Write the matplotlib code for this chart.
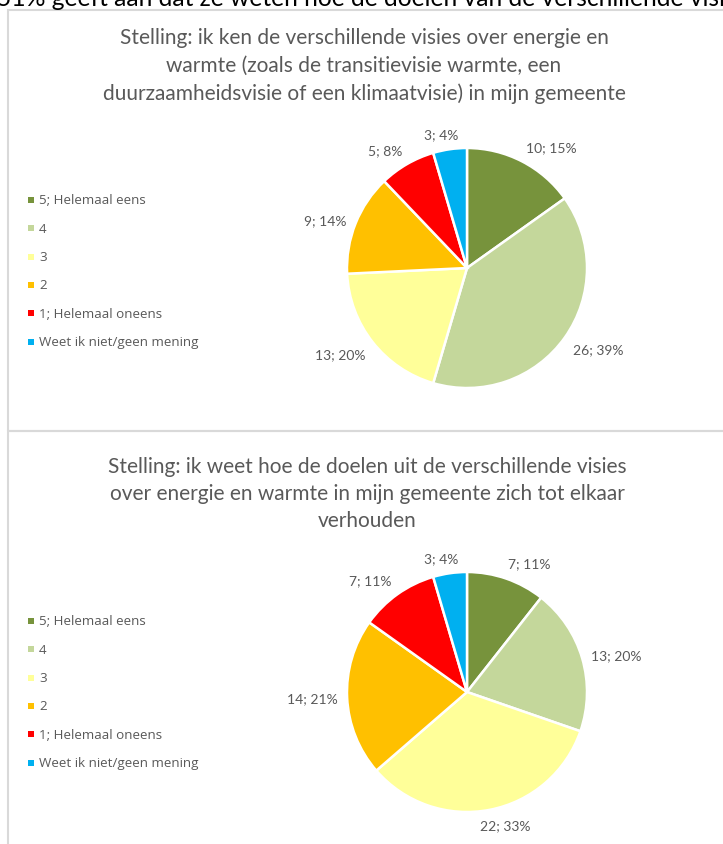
import numpy as np
import matplotlib
matplotlib.use("Agg")
import matplotlib.pyplot as plt
from matplotlib.patches import Rectangle

# ---------------- data ----------------
categories = ["5; Helemaal eens", "4", "3", "2", "1; Helemaal oneens", "Weet ik niet/geen mening"]
colors = ["#77933C", "#C4D79B", "#FFFF99", "#FFC000", "#FF0000", "#00B0F0"]

title1 = ["Stelling: ik ken de verschillende visies over energie en",
          "warmte (zoals de transitievisie warmte, een",
          "duurzaamheidsvisie of een klimaatvisie) in mijn gemeente"]
values1 = [10, 26, 13, 9, 5, 3]
labels1 = ["10; 15%", "26; 39%", "13; 20%", "9; 14%", "5; 8%", "3; 4%"]

title2 = ["Stelling: ik weet hoe de doelen uit de verschillende visies",
          "over energie en warmte in mijn gemeente zich tot elkaar",
          "verhouden"]
values2 = [7, 13, 22, 14, 7, 3]
labels2 = ["7; 11%", "13; 20%", "22; 33%", "14; 21%", "7; 11%", "3; 4%"]

header = "51% geeft aan dat ze weten hoe de doelen van de verschillende visies over energie en warmte"

# ---------------- layout ----------------
W, H = 723, 845
TXT = "#595959"
BORDER = "#D9D9D9"
TITLE_FONT = ["Lato", "DejaVu Sans"]
LABEL_FONT = ["Lato", "DejaVu Sans"]
LEG_FONT = ["Open Sans", "DejaVu Sans"]

fig = plt.figure(figsize=(W / 100, H / 100), dpi=100)
fig.patch.set_facecolor("white")


def fx(x):
    return x / W


def fy(y):
    return 1 - y / H


# header text (cut off at the top and right, as in the source)
fig.text(fx(-3), fy(6), header, ha="left", va="baseline", fontsize=17.7,
         color="black", family=TITLE_FONT)

# panel borders
for top, bottom in [(11, 432), (432, 870)]:
    fig.patches.append(Rectangle((fx(8), fy(bottom)), fx(760) - fx(8), fy(top) - fy(bottom),
                                 transform=fig.transFigure, fill=False,
                                 edgecolor=BORDER, linewidth=1.5, zorder=0))

renderer = fig.canvas.get_renderer()


def text_size(s, size, family):
    t = fig.text(0, 0, s, fontsize=size, family=family)
    bb = t.get_window_extent(renderer=renderer)
    t.remove()
    return bb.width, bb.height


def draw_panel(cx, cy, title, title_y, title_x, values, labels, leg_y0):
    R = 120
    k = 1.6
    S = 2 * R * k
    ax = fig.add_axes([fx(cx - S / 2), fy(cy + S / 2), S / W, S / H])
    wedges, _ = ax.pie(values, colors=colors, startangle=90, counterclock=False,
                       radius=1, wedgeprops=dict(edgecolor="white", linewidth=1.8))
    ax.set_xlim(-k, k)
    ax.set_ylim(-k, k)
    ax.set_aspect("equal")
    ax.axis("off")

    # data labels placed just outside each wedge
    fs = 10
    for w, lab in zip(wedges, labels):
        mid = np.deg2rad((w.theta1 + w.theta2) / 2)
        c, s = np.cos(mid), np.sin(mid)
        r = 1.08
        tw, th = text_size(lab, fs, LABEL_FONT)
        dx = (tw / 2) * np.clip(c / 0.35, -1, 1)
        if s > 0.5:
            dy = th / 2
        elif s < -0.5:
            dy = -th / 2
        else:
            dy = 0
        ax.annotate(lab, xy=(r * c, r * s), xytext=(dx, dy), textcoords="offset pixels",
                    ha="center", va="center", fontsize=fs, color=TXT, family=LABEL_FONT,
                    annotation_clip=False)

    # title
    fig.text(fx(title_x), fy(title_y), "\n".join(title), ha="center", va="center",
             fontsize=15, color=TXT, family=TITLE_FONT, linespacing=1.45)

    # legend
    pitch = 28.3
    for i, (cat, col) in enumerate(zip(categories, colors)):
        y = leg_y0 + i * pitch
        fig.patches.append(Rectangle((fx(28), fy(y + 3)), fx(34) - fx(28), fy(y - 3) - fy(y + 3),
                                     transform=fig.transFigure, facecolor=col,
                                     edgecolor="none"))
        fig.text(fx(39), fy(y), cat, ha="left", va="center", fontsize=9.6,
                 color=TXT, family=LEG_FONT)


draw_panel(467, 269, title1, 66, 364, values1, labels1, 201)
draw_panel(467, 693, title2, 494, 367, values2, labels2, 622)

fig.savefig("out.png", dpi=100, facecolor="white")
